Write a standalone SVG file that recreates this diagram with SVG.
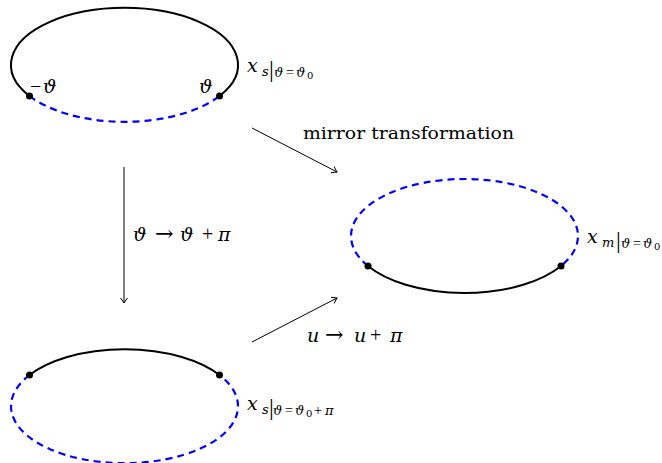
<svg xmlns="http://www.w3.org/2000/svg" width="662" height="463" viewBox="0 0 662 463">
<style>
.solid{fill:none;stroke:#000;stroke-width:2}
.dash{fill:none;stroke:#0000ff;stroke-width:2.2;stroke-dasharray:7,5}
.dot{fill:#000}
.conn{fill:none;stroke:#000;stroke-width:1;marker-end:url(#ah)}
text{font-family:"DejaVu Serif","Liberation Serif",serif;fill:#000;font-size:19px}
.it{font-style:italic}
.op{font-family:"Liberation Serif","DejaVu Serif",serif;font-size:20px}
.arr{font-size:22px}
.sub{font-size:13px}
.subsub{font-size:10px}
.sop{font-family:"Liberation Serif",serif;font-size:14px}
.bar{font-family:"Liberation Serif",serif;font-size:24px;font-style:normal}
</style>
<defs>
<marker id="ah" viewBox="-6 -4 7 8" refX="0" refY="0" markerWidth="7" markerHeight="8" orient="auto" markerUnits="userSpaceOnUse">
<path d="M-5,-3.5 Q-1.5,-0.8 0,0 Q-1.5,0.8 -5,3.5" fill="none" stroke="#000" stroke-width="1"/>
</marker>
</defs>
<rect width="662" height="463" fill="#fff"/>
<g id="connectors">
<line class="conn" x1="252" y1="128" x2="337" y2="172"/>
<line class="conn" x1="124" y1="167" x2="124" y2="303"/>
<line class="conn" x1="252" y1="342" x2="337" y2="298"/>
<text x="303" y="139" style="font-size:17px" textLength="211" lengthAdjust="spacingAndGlyphs">mirror transformation</text>
<text y="241"><tspan class="it" x="133">ϑ</tspan><tspan class="arr" x="155">→</tspan><tspan class="it" x="180">ϑ</tspan><tspan class="op" x="202">+</tspan><tspan class="it" x="218">π</tspan></text>
<text y="342"><tspan class="it" x="307">u</tspan><tspan class="arr" x="325">→</tspan><tspan class="it" x="354">u</tspan><tspan class="op" x="370">+</tspan><tspan class="it" x="390">π</tspan></text>
</g>
<g id="top">
<path class="solid" d="M29.5,96 A113.5,57 0 1 1 219.5,96"/>
<path class="dash" d="M29.5,96 A113.5,57 0 0 0 219.5,96"/>
<circle class="dot" cx="29.5" cy="96" r="3.5"/>
<circle class="dot" cx="219.5" cy="96" r="3.5"/>
<text y="93"><tspan class="op" x="30">−</tspan><tspan class="it" x="43">ϑ</tspan></text>
<text x="199" y="93" class="it">ϑ</text>
<text y="72"><tspan class="it" x="247">x</tspan><tspan class="it sub" x="262" y="76">s</tspan><tspan class="bar" x="269" y="77">|</tspan><tspan class="sub it" x="274" y="77">ϑ</tspan><tspan class="sop" x="286" y="77">=</tspan><tspan class="sub it" x="296" y="77">ϑ</tspan><tspan class="subsub" x="307" y="79">0</tspan></text>
</g>
<g id="mirror">
<path class="solid" d="M368,266 A113.5,57 0 0 0 561,266"/>
<path class="dash" d="M368,266 A113.5,57 0 1 1 561,266"/>
<circle class="dot" cx="368" cy="266" r="3.5"/>
<circle class="dot" cx="561" cy="266" r="3.5"/>
<text y="243"><tspan class="it" x="587">x</tspan><tspan class="it sub" x="602" y="247">m</tspan><tspan class="bar" x="616" y="248">|</tspan><tspan class="sub it" x="621" y="248">ϑ</tspan><tspan class="sop" x="633" y="248">=</tspan><tspan class="sub it" x="643" y="248">ϑ</tspan><tspan class="subsub" x="654" y="250">0</tspan></text>
</g>
<g id="bottom">
<path class="solid" d="M29.5,375 A113.5,57 0 0 1 219.5,375"/>
<path class="dash" d="M29.5,375 A113.5,57 0 1 0 219.5,375"/>
<circle class="dot" cx="29.5" cy="375" r="3.5"/>
<circle class="dot" cx="219.5" cy="375" r="3.5"/>
<text y="410"><tspan class="it" x="247">x</tspan><tspan class="it sub" x="262" y="414">s</tspan><tspan class="bar" x="269" y="415">|</tspan><tspan class="sub it" x="273" y="415">ϑ</tspan><tspan class="sop" x="285" y="415">=</tspan><tspan class="sub it" x="295" y="415">ϑ</tspan><tspan class="subsub" x="306" y="417">0</tspan><tspan class="sop" x="314" y="415">+</tspan><tspan class="sub it" x="325" y="415">π</tspan></text>
</g>
</svg>
